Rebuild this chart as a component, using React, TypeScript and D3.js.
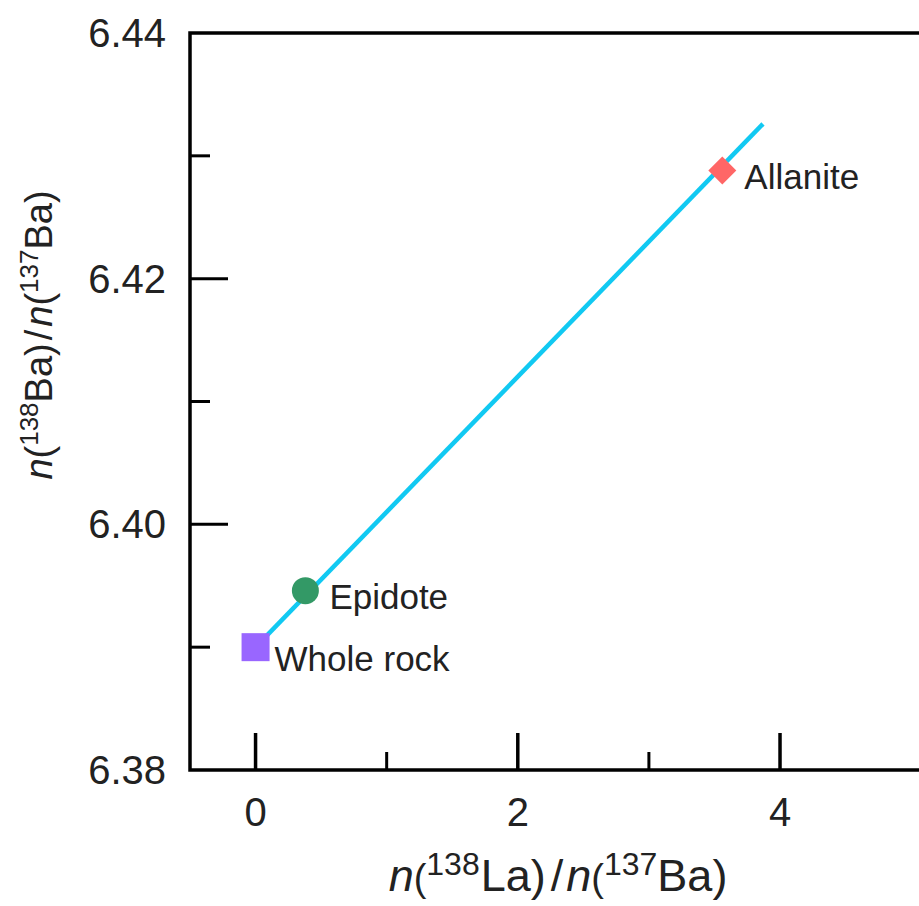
import React from 'react';
import * as d3 from 'd3';

// samples
const sampleNames = ['Whole rock', 'Epidote', 'Allanite'];
const laBa = [0.0, 0.38, 3.56];
const baBa = [6.39, 6.3946, 6.4288];
const sampleColors = ['#9966ff', '#339966', '#ff6666'];
const sampleShapes = ['square', 'circle', 'diamond'];

// fitted isochron end points
const lineX = [0.0, 3.87];
const lineY = [6.39, 6.4326];

const xMajor = [0, 2, 4];
const xMinor = [1, 3];
const yMajor = [6.38, 6.4, 6.42, 6.44];
const yMinor = [6.39, 6.41, 6.43];

const width = 919;
const height = 906;
const margin = { top: 33, right: 0, bottom: 136, left: 190 };
const font = '"Liberation Sans", Arial, sans-serif';
const ink = '#222';

function Marker({ shape, x, y, color }) {
  if (shape === 'square') {
    return <rect x={x - 14} y={y - 14} width={28} height={28} fill={color} />;
  }
  if (shape === 'circle') {
    return <circle cx={x} cy={y} r={13.5} fill={color} />;
  }
  const s = 14;
  return (
    <path d={`M${x},${y - s}L${x + s},${y}L${x},${y + s}L${x - s},${y}Z`} fill={color} />
  );
}

export default function App() {
  const x = d3
    .scaleLinear()
    .domain([-0.5, 5.06])
    .range([margin.left, width - margin.right]);
  const y = d3
    .scaleLinear()
    .domain([6.38, 6.44])
    .range([height - margin.bottom, margin.top]);

  const line = d3
    .line()
    .x((d) => x(d[0]))
    .y((d) => y(d[1]));
  const fit = lineX.map((v, i) => [v, lineY[i]]);

  const x0 = x.range()[0];
  const y0 = y.range()[0];

  return (
    <svg
      width={width}
      height={height}
      style={{ position: 'absolute', left: 0, top: 0, background: '#fff' }}
      fontFamily={font}
    >
      {/* fitted line */}
      <path d={line(fit)} fill="none" stroke="#11c9f2" strokeWidth={4.5} />

      {/* samples */}
      {sampleNames.map((name, i) => (
        <g key={name}>
          <Marker shape={sampleShapes[i]} x={x(laBa[i])} y={y(baBa[i])} color={sampleColors[i]} />
        </g>
      ))}
      <text x={x(laBa[0]) + 19} y={y(baBa[0]) + 24} fontSize={35} fill={ink}>{sampleNames[0]}</text>
      <text x={x(laBa[1]) + 24} y={y(baBa[1]) + 18} fontSize={35} fill={ink}>{sampleNames[1]}</text>
      <text x={x(laBa[2]) + 22} y={y(baBa[2]) + 18} fontSize={35} fill={ink}>{sampleNames[2]}</text>

      {/* frame */}
      <path
        d={`M${width},${margin.top}H${x0}V${y0}H${width}`}
        fill="none"
        stroke="#000"
        strokeWidth={3.5}
      />

      {/* y ticks */}
      {yMajor.map((v) => (
        <g key={'ym' + v}>
          {v > 6.38 && v < 6.44 && (
            <line x1={x0} x2={x0 + 38} y1={y(v)} y2={y(v)} stroke="#000" strokeWidth={3} />
          )}
          <text x={166} y={y(v)} dy="0.35em" textAnchor="end" fontSize={40} fill={ink}>
            {d3.format('.2f')(v)}
          </text>
        </g>
      ))}
      {yMinor.map((v) => (
        <line key={'yn' + v} x1={x0} x2={x0 + 20} y1={y(v)} y2={y(v)} stroke="#000" strokeWidth={3} />
      ))}

      {/* x ticks */}
      {xMajor.map((v) => (
        <g key={'xm' + v}>
          <line x1={x(v)} x2={x(v)} y1={y0} y2={y0 - 37} stroke="#000" strokeWidth={3.5} />
          <text x={x(v)} y={826} textAnchor="middle" fontSize={40} fill={ink}>
            {v}
          </text>
        </g>
      ))}
      {xMinor.map((v) => (
        <line key={'xn' + v} x1={x(v)} x2={x(v)} y1={y0} y2={y0 - 18} stroke="#000" strokeWidth={3} />
      ))}

      {/* x title */}
      <text x={558} y={891} textAnchor="middle" fontSize={45} fill={ink}>
        <tspan fontStyle="italic">n</tspan>
        <tspan fontSize={38}>(</tspan>
        <tspan fontSize={32} dy={-16}>138</tspan>
        <tspan dy={16} dx={1}>La)</tspan>
        <tspan dx={5}>/</tspan>
        <tspan dx={3} fontStyle="italic">n</tspan>
        <tspan fontSize={38}>(</tspan>
        <tspan fontSize={32} dy={-16}>137</tspan>
        <tspan dy={16}>Ba)</tspan>
      </text>

      {/* y title */}
      <text transform="translate(52,335) rotate(-90)" textAnchor="middle" fontSize={38} fill={ink}>
        <tspan fontStyle="italic">n</tspan>
        <tspan>(</tspan>
        <tspan fontSize={26} dy={-14}>138</tspan>
        <tspan dy={14}>Ba)</tspan>
        <tspan dx={3}>/</tspan>
        <tspan dx={3} fontStyle="italic">n</tspan>
        <tspan>(</tspan>
        <tspan fontSize={26} dy={-14}>137</tspan>
        <tspan dy={14}>Ba)</tspan>
      </text>
    </svg>
  );
}
